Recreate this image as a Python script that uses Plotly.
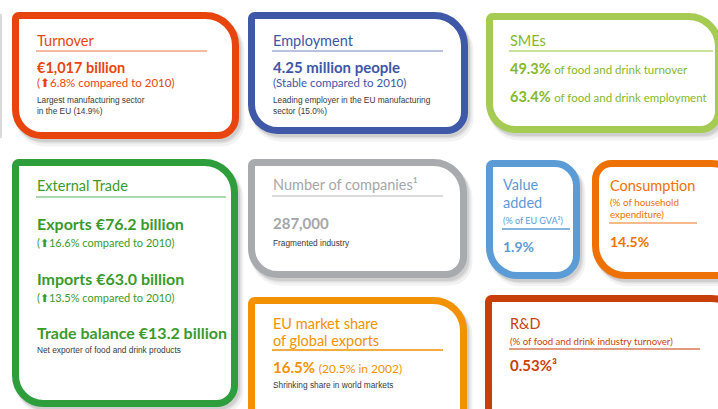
import plotly.graph_objects as go

# ---------------- data (texts of the infographic) ----------------
box_names = ["Turnover", "Employment", "SMEs", "External Trade", "Number of companies¹",
             "EU market share", "Value", "Consumption", "R&D"]
box_names_2 = ["", "", "", "", "", "of global exports", "added", "", ""]
box_colors = ["#E8450E", "#3F59A8", "#A6CB52", "#2E9E3C", "#A9AAAD",
              "#F39200", "#5B9BD6", "#EE7203", "#C73F0B"]
text_colors = ["#E8450E", "#3D57A7", "#86B72B", "#3A9A2E", "#A5A6A9",
               "#F39200", "#5B9BD6", "#EE7203", "#C73F0B"]
rule_colors = ["#F4A27E", "#A3AED6", "#B9D77A", "#8FCF8F", "#CFCFD1",
               "#F39200", "#5B9BD6", "#F2A46A", "#D9785A"]

turnover_lines = ["€1,017 billion", "(⬆6.8% compared to 2010)",
                  "Largest manufacturing sector", "in the EU (14.9%)"]
employment_lines = ["4.25 million people", "(Stable compared to 2010)",
                    "Leading employer in the EU manufacturing", "sector (15.0%)"]
sme_values = ["49.3%", "63.4%"]
sme_labels = ["of food and drink turnover", "of food and drink employment"]
trade_values = ["Exports €76.2 billion", "Imports €63.0 billion", "Trade balance €13.2 billion"]
trade_notes = ["(⬆16.6% compared to 2010)", "(⬆13.5% compared to 2010)",
               "Net exporter of food and drink products"]
companies_lines = ["287,000", "Fragmented industry"]
market_share_lines = ["16.5%", "(20.5% in 2002)", "Shrinking share in world markets"]
value_added_lines = ["(% of EU GVA²)", "1.9%"]
consumption_lines = ["(% of household", "expenditure)", "14.5%"]
rnd_lines = ["(% of food and drink industry turnover)", "0.53%³"]

# ---------------- layout geometry (pixels) ----------------
W, H = 718, 409
# outer rectangle and corner radii (tl, tr, br, bl)
boxes = [
    ((12, 12, 239, 139), (3, 30, 18, 26)),
    ((248, 12, 468, 134), (3, 30, 18, 26)),
    ((486, 13, 722, 133), (3, 30, 18, 26)),
    ((12, 159, 238, 407), (3, 30, 18, 28)),
    ((248, 159, 467, 278), (3, 30, 18, 26)),
    ((248, 297, 467, 445), (3, 30, 18, 28)),
    ((486, 160, 580, 279), (3, 22, 20, 28)),
    ((592, 160, 745, 279), (16, 30, 18, 30)),
    ((485, 295, 745, 445), (3, 30, 18, 28)),
]
BW = 7
K = 0.5523


def rpath(x0, y0, x1, y1, r):
    tl, tr, br, bl = r
    return (f"M {x0+tl},{y0} L {x1-tr},{y0} "
            f"C {x1-tr+K*tr},{y0} {x1},{y0+tr-K*tr} {x1},{y0+tr} "
            f"L {x1},{y1-br} C {x1},{y1-br+K*br} {x1-br+K*br},{y1} {x1-br},{y1} "
            f"L {x0+bl},{y1} C {x0+bl-K*bl},{y1} {x0},{y1-bl+K*bl} {x0},{y1-bl} "
            f"L {x0},{y0+tl} C {x0},{y0+tl-K*tl} {x0+tl-K*tl},{y0} {x0+tl},{y0} Z")


shapes = []
# faint edge of neighbouring panel
shapes.append(dict(type="line", xref="x", yref="y", x0=1, x1=1, y0=14, y1=138,
                   line=dict(color="#DADADA", width=2)))
# shadows
for (x0, y0, x1, y1), r in boxes:
    h = BW / 2
    for dx, dy, w, a in [(4, 6, 10, 0.05), (3, 4, 8, 0.07), (2, 3, 7, 0.08)]:
        shapes.append(dict(type="path", xref="x", yref="y",
                           path=rpath(x0 + h + dx, y0 + h + dy, x1 - h + dx, y1 - h + dy, r),
                           line=dict(color=f"rgba(0,0,0,{a})", width=w),
                           fillcolor="rgba(0,0,0,0)"))
# boxes
for ((x0, y0, x1, y1), r), c in zip(boxes, box_colors):
    h = BW / 2
    shapes.append(dict(type="path", xref="x", yref="y",
                       path=rpath(x0 + h, y0 + h, x1 - h, y1 - h, r),
                       line=dict(color=c, width=BW), fillcolor="white"))

# rules under titles: (x0, x1, y)
rules = [(36, 207, 51), (272, 443, 51), (509, 713, 51), (36, 226, 197), (272, 443, 196),
         (272, 443, 350), (502, 570, 229), (609, 697, 223), (509, 700, 349)]
for (a, b, y), c in zip(rules, rule_colors):
    shapes.append(dict(type="line", xref="x", yref="y", x0=a, x1=b, y0=y, y1=y,
                       line=dict(color=c, width=1.6)))

TF = "Lato"
BF = "Lato"
NF = "Liberation Sans"
anns = []


def txt(x, y, s, size, color, bold=False, family=None):
    anns.append(dict(x=x, y=y, xref="x", yref="y", text=(f"<b>{s}</b>" if bold else s),
                     showarrow=False, xanchor="left", yanchor="middle", align="left",
                     font=dict(size=size, color=color, family=family or (BF if bold else TF))))


TS = 14.5
DARK = "#3A3A3A"
NS = 8.3
# titles (first and second line positions)
title_pos = [(35, 40), (271, 40), (508, 40), (35, 185), (271, 184), (271, 323), (501, 184),
             (608, 185), (508, 323)]
title2_y = [None, None, None, None, None, 340, 202, None, None]
for (x, y), t, t2, y2, c in zip(title_pos, box_names, box_names_2, title2_y, text_colors):
    txt(x, y, t, TS, c)
    if t2:
        txt(x, y2, t2, TS, c)

# Turnover
c = text_colors[0]
txt(35, 67, turnover_lines[0], 14.5, c, bold=True)
txt(35, 82, turnover_lines[1], 11.5, c)
txt(35, 100, turnover_lines[2], NS, DARK, family=NF)
txt(35, 111, turnover_lines[3], NS, DARK, family=NF)
# Employment
c = text_colors[1]
txt(271, 67, employment_lines[0], 15, c, bold=True)
txt(271, 82, employment_lines[1], 11.5, c)
txt(271, 100, employment_lines[2], NS, DARK, family=NF)
txt(271, 111, employment_lines[3], NS, DARK, family=NF)
# SMEs
c = text_colors[2]
for (v, l), y in zip(zip(sme_values, sme_labels), [68, 96]):
    txt(508, y, f"<b style='font-size:14.5px'>{v}</b> <span style='font-size:11.5px'>{l}</span>", 14, c)
# External trade
c = text_colors[3]
for v, y in zip(trade_values, [223, 278, 332]):
    txt(35, y, v, 16, c, bold=True)
txt(35, 242, trade_notes[0], 11, c)
txt(35, 297, trade_notes[1], 11, c)
txt(35, 350, trade_notes[2], NS, DARK, family=NF)
# Companies
c = text_colors[4]
txt(271, 223, companies_lines[0], 15, c, bold=True)
txt(271, 243, companies_lines[1], NS, DARK, family=NF)
# Market share
c = text_colors[5]
txt(271, 367, f"<b style='font-size:15px'>{market_share_lines[0]}</b> "
              f"<span style='font-size:12px'>{market_share_lines[1]}</span>", 15, c)
txt(271, 385, market_share_lines[2], NS, DARK, family=NF)
# Value added
c = text_colors[6]
txt(501, 220, value_added_lines[0], 9, c)
txt(501, 246, value_added_lines[1], 14, c, bold=True)
# Consumption
c = text_colors[7]
txt(608, 202, consumption_lines[0], 9.8, c)
txt(608, 214, consumption_lines[1], 9.8, c)
txt(608, 241, consumption_lines[2], 14, c, bold=True)
# R&D
c = text_colors[8]
txt(508, 341, rnd_lines[0], 9.6, c)
txt(508, 365, rnd_lines[1], 15, c, bold=True)

fig = go.Figure(go.Scatter(x=[0], y=[0], mode="markers", marker=dict(opacity=0),
                           hoverinfo="skip", showlegend=False))
fig.update_layout(width=W, height=H, margin=dict(l=0, r=0, t=0, b=0),
                  paper_bgcolor="white", plot_bgcolor="white",
                  xaxis=dict(range=[0, W], visible=False, fixedrange=True),
                  yaxis=dict(range=[H, 0], visible=False, fixedrange=True),
                  shapes=shapes, annotations=anns, showlegend=False)
fig.write_html("out.html", config={"displayModeBar": False},
               post_script="document.body.style.margin='0';document.body.style.overflow='hidden';")
